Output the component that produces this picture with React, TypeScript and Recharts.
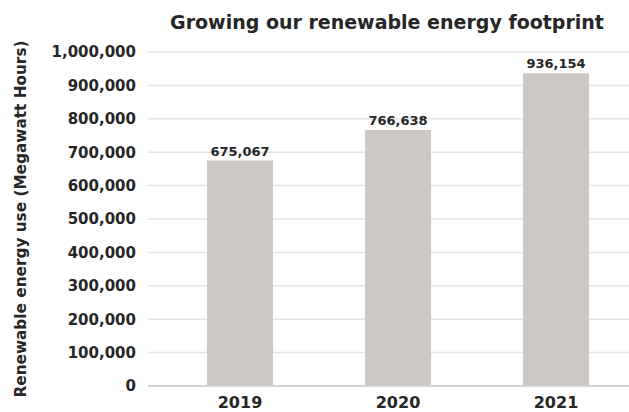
import React from 'react';
import { BarChart, Bar, XAxis, YAxis, CartesianGrid, LabelList, Label } from 'recharts';

const years = ['2019', '2020', '2021'];
const energyMWh = [675067, 766638, 936154];
const yTicks = [0, 100000, 200000, 300000, 400000, 500000, 600000, 700000, 800000, 900000, 1000000];

const data = years.map((year, i) => ({ year, value: energyMWh[i] }));

const FONT = '"DejaVu Sans", sans-serif';
const TEXT = '#262626';

const fmt = (v: number) => v.toLocaleString('en-US');

export default function App() {
  return (
    <div style={{ position: 'absolute', left: 0, top: 0, width: 629, height: 412, overflow: 'hidden', background: '#fff' }}>
      <div
        style={{
          position: 'absolute',
          left: 387,
          top: 11,
          transform: 'translateX(-50%)',
          whiteSpace: 'nowrap',
          fontFamily: FONT,
          fontWeight: 700,
          fontSize: 19,
          color: TEXT,
        }}
      >
        Growing our renewable energy footprint
      </div>
      <BarChart
        width={640}
        height={412}
        data={data}
        margin={{ top: 52, right: 5, bottom: 0, left: 0 }}
        style={{ fontFamily: FONT }}
      >
        <CartesianGrid vertical={false} stroke="#e4e4e4" strokeWidth={1.5} />
        <XAxis
          dataKey="year"
          height={26}
          padding={{ left: 13, right: 0 }}
          tickLine={false}
          tickSize={0}
          tickMargin={11}
          axisLine={{ stroke: '#d4d4d4', strokeWidth: 2 }}
          tick={{ fill: TEXT, fontSize: 16, fontWeight: 700 }}
        />
        <YAxis
          width={148}
          domain={[0, 1000000]}
          ticks={yTicks}
          interval={0}
          tickFormatter={fmt}
          axisLine={false}
          tickLine={false}
          tickSize={0}
          tickMargin={12}
          tick={{ fill: TEXT, fontSize: 15, fontWeight: 700 }}
        >
          <Label
            content={() => (
              <text
                x={21}
                y={219}
                transform="rotate(-90 21 219)"
                textAnchor="middle"
                dominantBaseline="central"
                fill={TEXT}
                fontSize={15.3}
                fontWeight={700}
                fontFamily={FONT}
              >
                Renewable energy use (Megawatt Hours)
              </text>
            )}
          />
        </YAxis>
        <Bar dataKey="value" fill="#ccc9c4" barSize={66} isAnimationActive={false}>
          <LabelList
            dataKey="value"
            position="top"
            offset={5}
            formatter={(v: any) => fmt(Number(v))}
            style={{ fill: TEXT, fontSize: 13, fontWeight: 700, fontFamily: FONT }}
          />
        </Bar>
      </BarChart>
    </div>
  );
}
